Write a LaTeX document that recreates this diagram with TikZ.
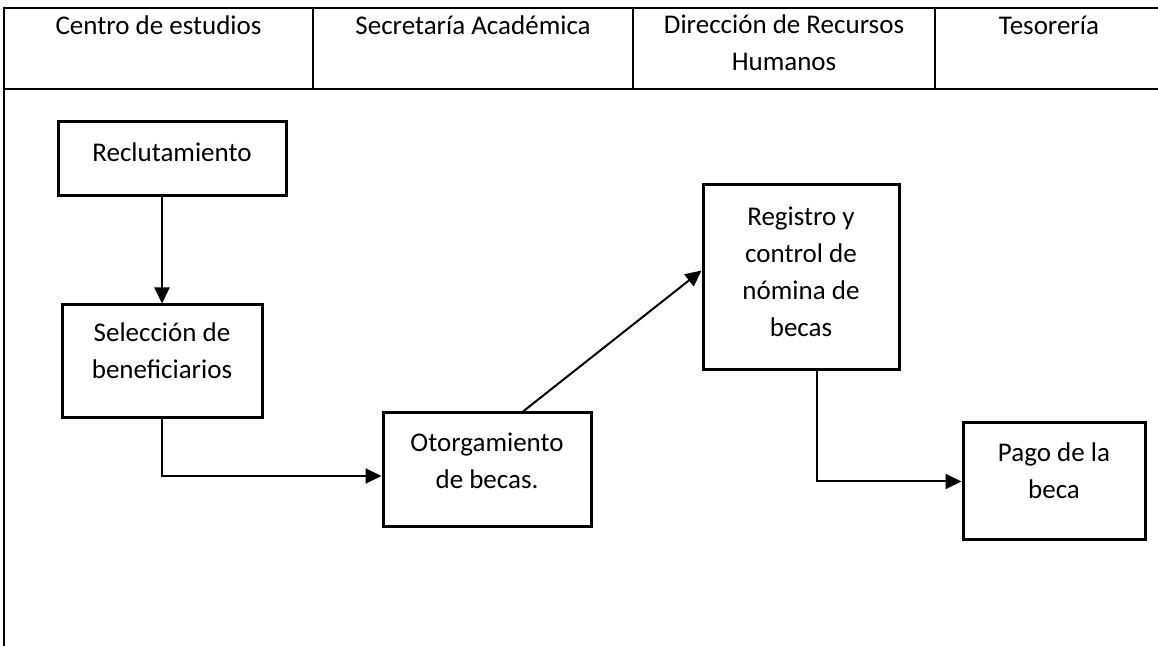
\documentclass[tikz,border=0pt]{standalone}
\usepackage{fontspec}
\setmainfont{Carlito}
\usepackage{tikz}
\usetikzlibrary{arrows.meta}
\tikzstyle{activity}=[rectangle,
draw=black,
line width=1.5pt,
inner sep=0pt]
\tikzstyle{acttext}=[align=center,
inner sep=0pt]
\tikzstyle{lane}=[line width=1pt,
draw=black]
\tikzstyle{flow}=[line width=1pt,
->]

\begin{document}
\begin{tikzpicture}[x=0.5pt,y=-0.5pt,
>={Triangle[length=8pt,width=7.5pt]},
font=\fontsize{13.5}{18.5}\selectfont]
	% The page keeps the proportions of the original picture.
	\useasboundingbox (0,0) rectangle (1158,646);
	
	% Header of the swimlanes
	\coordinate (tl) at (4,8);
	\coordinate (tr) at (1158,8);
	\coordinate (hl) at (4,89);
	\coordinate (hr) at (1158,89);
	\coordinate (bl) at (4,646);
	\draw[lane] (tr) -- (tl) -- (bl);
	\draw[lane] (hl) -- (hr);
	\foreach \xs in {313,633,935}
		\draw[lane] (\xs,8) -- (\xs,89);
	
	% "base" of a two line node is the baseline of its last line
	\node (lane1) [acttext,anchor=base] at (158.5,35) {Centro de estudios};
	\node (lane2) [acttext,anchor=base] at (473,35) {Secretaría Académica};
	\node (lane3) [acttext,anchor=base] at (784,71) {Dirección de Recursos\\Humanos};
	\node (lane4) [acttext,anchor=base] at (1049,35) {Tesorería};
	
	% Activities: boxes first, their texts sit a little above the centre
	\node (recl) [activity,minimum width=114pt,minimum height=37pt] at (172,159) {};
	\node (sel)  [activity,minimum width=100pt,minimum height=56.5pt] at (162,361.5) {};
	\node (otor) [activity,minimum width=104pt,minimum height=57pt] at (487,470) {};
	\node (reg)  [activity,minimum width=98pt,minimum height=92.5pt] at (801,277.5) {};
	\node (pago) [activity,minimum width=91pt,minimum height=58.5pt] at (1054,481.5) {};
	
	\node (recl_t) [acttext] at ([yshift=3.5pt]recl.center) {Reclutamiento};
	\node (sel_t)  [acttext] at ([yshift=5.5pt]sel.center) {Selección de\\beneficiarios};
	\node (otor_t) [acttext] at ([yshift=4.5pt]otor.center) {Otorgamiento\\de becas.};
	\node (reg_t)  [acttext] at ([yshift=3pt]reg.center) {Registro y\\control de\\nómina de\\becas};
	\node (pago_t) [acttext] at ([yshift=5.5pt]pago.center) {Pago de la\\beca};
	
	% The activities are now connected through arrows:
	\draw[flow] (sel.north |- recl.south) -- (sel.north);
	\draw[flow] (sel.south) |- ([yshift=-3pt]otor.west);
	\draw[flow] ([xshift=18pt]otor.north) -- ([yshift=3.5pt]reg.west);
	\draw[flow] ([xshift=8pt]reg.south) |- (pago.west);
\end{tikzpicture}
\end{document}
